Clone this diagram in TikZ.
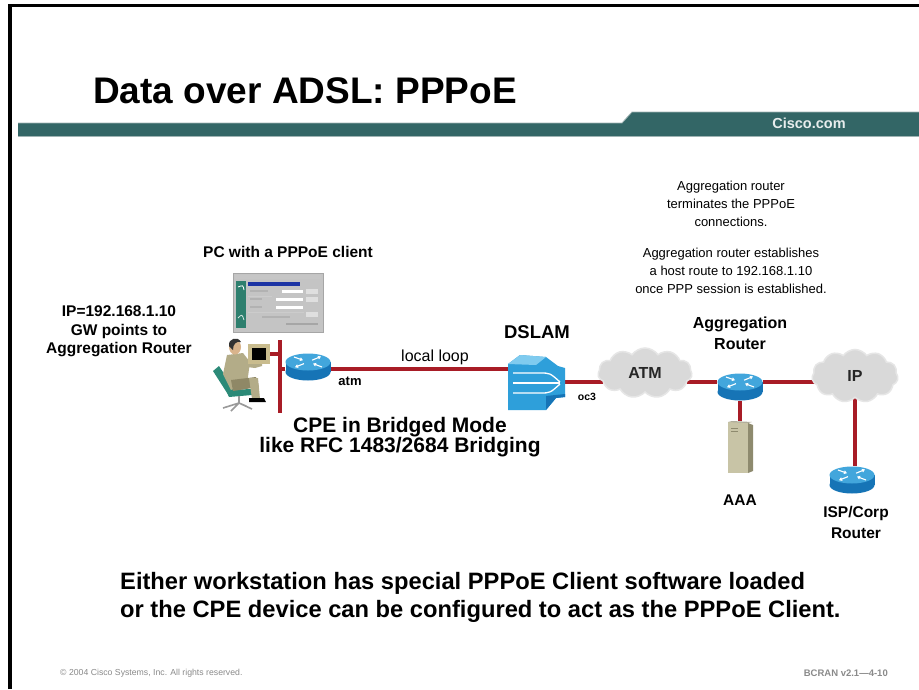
\documentclass[tikz,border=0pt]{standalone}
\usepackage{fontspec}
\setmainfont{Liberation Sans}
\usetikzlibrary{shapes.symbols,arrows.meta,calc}

\definecolor{barteal}{HTML}{336666}
\definecolor{baredge}{HTML}{9FB3B3}
\definecolor{linkred}{HTML}{A81C26}
\definecolor{routertop}{HTML}{42A6DC}
\definecolor{routerside}{HTML}{1674B6}
\definecolor{dslamblue}{HTML}{2E9FDA}
\definecolor{dslamlight}{HTML}{7FCBEF}
\definecolor{cloudgray}{HTML}{D9D9D9}
\definecolor{cloudedge}{HTML}{E6E6E6}
\definecolor{servertan}{HTML}{C8C4A6}
\definecolor{serverdark}{HTML}{8E8A6E}
\definecolor{khaki}{HTML}{B3AC88}
\definecolor{khakidark}{HTML}{8F8866}
\definecolor{chairteal}{HTML}{2C8A78}
\definecolor{chairgray}{HTML}{9A9A9A}
\definecolor{skin}{HTML}{D9B48C}
\definecolor{monitortan}{HTML}{C9BC8E}
\definecolor{wingray}{HTML}{C4C4C4}
\definecolor{winblue}{HTML}{1C34A4}
\definecolor{winteal}{HTML}{2E7F6E}
\definecolor{footgray}{HTML}{8A8A8A}

\pgfdeclarelayer{bg}
\pgfsetlayers{bg,main}

\tikzset{
  link/.style={draw=linkred, line width=3.2pt},
  boldlabel/.style={font=\bfseries, inner sep=0pt, align=center},
  plainlabel/.style={inner sep=0pt, align=center},
  netcloud/.style={cloud, cloud puffs=11, cloud puff arc=110, aspect=1.8,
    fill=cloudgray, draw=cloudedge, line width=1.5pt, inner sep=0pt},
  router/.pic={
    \fill[routerside] (-22.5,-4) rectangle (22.5,6);
    \fill[routerside] (0,6) ellipse [x radius=22.5pt, y radius=8.5pt];
    \fill[routertop] (0,-4) ellipse [x radius=22.5pt, y radius=8.5pt];
    \begin{scope}[white, line width=1.1pt, -{Triangle[length=3pt,width=3.6pt]}]
      \draw (-14,-9) -- (-5,-5.8);
      \draw (14,1) -- (5,-2.4);
      \draw (4,-5.8) -- (13,-9.5);
      \draw (-4,-2.4) -- (-13,1.2);
    \end{scope}
    \node[inner sep=0pt, minimum width=45pt, minimum height=27pt] (-box) at (0,1) {};
  },
  dslam/.pic={
    \fill[dslamblue] (-28,-18) -- (-16,-27) -- (10,-25) -- (22,-16) -- (29,-14)
      -- (29,15) -- (20,16) -- (10,28) -- (-28,28) -- cycle;
    \fill[dslamlight] (-28,-18) -- (-16,-27) -- (10,-25) -- (0,-17) -- cycle;
    \fill[routerside] (10,28) -- (20,16) -- (29,15) -- (29,12) -- (10,14) -- cycle;
    \begin{scope}[white, line width=1.3pt]
      \draw (-23,-9) -- (4,-9) .. controls (14,-9) .. (24,0);
      \draw (-23,1) -- (24,1);
      \draw (-23,11) -- (4,11) .. controls (14,11) .. (24,2);
    \end{scope}
    \node[inner sep=0pt, minimum width=57pt, minimum height=55pt] (-box) at (0.5,0.5) {};
  },
  server/.pic={
    \fill[serverdark] (8,-24) -- (13,-22) -- (13,24) -- (8,26) -- cycle;
    \fill[servertan] (-12,-25) rectangle (8,26);
    \fill[serverdark!70] (-12,-25) -- (-8,-26) -- (12,-25) -- (8,-24) -- cycle;
    \draw[serverdark, line width=0.8pt] (-9,-19) -- (-2,-19) (-9,-16) -- (-2,-16);
    \node[inner sep=0pt, minimum width=25pt, minimum height=51pt] (-box) at (0.5,0) {};
  }
}

\begin{document}
\begin{tikzpicture}[x=1pt, y=-1pt]
\useasboundingbox (0,0) rectangle (919,689);
\begin{pgfonlayer}{bg}
  \fill[white] (0,0) rectangle (919,689);
\end{pgfonlayer}

% slide frame
\draw[line width=3.5pt] (10,689) -- (10,5.5) -- (919,5.5);

% header band
\fill[barteal] (18,123) -- (622,123) -- (632,112) -- (919,112) -- (919,136) -- (18,136) -- cycle;
\draw[baredge, line width=0.8pt] (18,123) -- (622,123) -- (632,112) -- (919,112);
\draw[baredge, line width=0.6pt] (18,136.3) -- (919,136.3);
\node[anchor=base west, inner sep=0pt, font=\fontsize{37}{44}\selectfont\bfseries] (title) at (93,103) {Data over ADSL: PPPoE};
\node[boldlabel, text=white!88!barteal, font=\fontsize{14.5}{17}\selectfont\bfseries] (cisco) at (809,123.5) {Cisco.com};

% notes
\node[plainlabel, font=\fontsize{13}{18}\selectfont] (noteA) at (731,203.5)
  {Aggregation router\\terminates the PPPoE\\connections.};
\node[plainlabel, font=\fontsize{13}{18}\selectfont] (noteB) at (731,270.5)
  {Aggregation router establishes\\a host route to 192.168.1.10\\once PPP session is established.};
\node[boldlabel, font=\fontsize{15.5}{18.5}\selectfont\bfseries] (ipnote) at (119,331.5)
  {IP=192.168.1.10\\GW points to\\Aggregation Router};
\node[boldlabel, font=\fontsize{15.5}{18}\selectfont\bfseries] (pclabel) at (288,252) {PC with a PPPoE client};

% client application window
\begin{scope}
  \fill[wingray] (233,273) rectangle (323,332);
  \draw[gray!70, line width=0.6pt] (233,273) rectangle (323,332);
  \fill[gray!45] (235,275) rectangle (321,279);
  \fill[winteal] (236,281) rectangle (246,328);
  \draw[white, line width=0.8pt] (238,287) .. controls (243,285) .. (244,290);
  \draw[white!80!winteal, line width=0.8pt] (238,318) .. controls (242,314) .. (244,320);
  \fill[winblue] (248,282) rectangle (300,286);
  \fill[white] (282,290) rectangle (303,293);
  \fill[white] (276,298) rectangle (303,301);
  \fill[white] (276,306) rectangle (303,309);
  \fill[gray!60] (250,290) rectangle (268,292);
  \fill[gray!60] (250,298) rectangle (262,300);
  \fill[gray!60] (250,306) rectangle (262,308);
  \fill[gray!25] (306,289) rectangle (318,294);
  \fill[gray!25] (306,297) rectangle (318,302);
  \fill[gray!25] (306,312) rectangle (318,317);
  \fill[gray!60] (262,316) rectangle (290,318);
  \fill[gray!70] (286,323) rectangle (318,325);
  \draw[gray!40, line width=0.5pt] (248,296) -- (272,296) (248,312) -- (304,312);
\end{scope}

% user at the workstation
\begin{scope}
  \fill[chairteal] (213,371) -- (219,366) -- (235,390) -- (229,396) -- cycle;
  \fill[chairteal] (226,390) -- (252,389) -- (252,395) -- (229,397) -- cycle;
  \draw[chairgray, line width=1.6pt] (239,396) -- (239,403)
    (223,408) -- (239,403) -- (252,409) (239,403) -- (231,411) (239,403) -- (246,406);
  \fill[khaki] (227,355) -- (243,353) -- (250,362) -- (247,384) -- (231,390) -- (223,374) -- cycle;
  \fill[khakidark] (231,380) -- (256,377) -- (259,387) -- (233,391) -- cycle;
  \fill[khaki] (249,378) -- (258,378) -- (260,399) -- (252,399) -- cycle;
  \fill[khaki] (239,357) -- (256,362) -- (262,360) -- (262,366) -- (255,368) -- (239,366) -- cycle;
  \fill[black] (249,398) -- (264,398) -- (266,402) -- (249,402) -- cycle;
  \fill[skin] (235,347) ellipse [x radius=6pt, y radius=7.5pt];
  \fill[black!80] (229,346) .. controls (228,338) and (238,336) .. (241,342)
    .. controls (236,341) and (233,344) .. (233,350) -- cycle;
\end{scope}

% workstation display
\node[fill=monitortan, minimum width=22pt, minimum height=20pt, inner sep=0pt] (monitor) at (259,354) {};
\fill[black] (252,348) rectangle (266,360);

% devices
\pic (cpe) at (308,366) {router};
\pic (dsl) at (536,382) {dslam};
\node[netcloud, minimum width=94pt, minimum height=50pt] (atm) at (645,373) {};
\pic (agg) at (740,386) {router};
\node[netcloud, minimum width=86pt, minimum height=53pt, aspect=1.5] (ipc) at (855,376) {};
\pic (isp) at (852,479) {router};
\pic (aaa) at (740,447) {server};

% connection lines
\coordinate (lanT) at (280,340);
\coordinate (lanB) at (280,413);
\coordinate (loopY) at (0,369);
\coordinate (coreY) at (0,382);
\begin{pgfonlayer}{bg}
  \draw[link] (lanT) -- (lanB);
  \draw[link] (monitor.east) -- (monitor.east -| lanT);
  \draw[link] (cpe-box.west |- loopY) -- (lanT |- loopY);
  \draw[link] (cpe-box.east |- loopY) -- (dsl-box.west |- loopY);
  \draw[link] (dsl-box.east |- coreY) -- (atm.center |- coreY);
  \draw[link] (atm.center |- coreY) -- (agg-box.west |- coreY);
  \draw[link] (agg-box.east |- coreY) -- (ipc.center |- coreY);
  \draw[link] (ipc.center) -- (isp-box.north -| ipc.center);
  \draw[link] (agg-box.south) -- (aaa-box.north -| agg-box.south);
\end{pgfonlayer}

% device labels
\node[boldlabel, text=black!85, font=\fontsize{16}{19}\selectfont\bfseries] (atmlabel) at (atm) {ATM};
\node[boldlabel, text=black!85, font=\fontsize{16}{19}\selectfont\bfseries] (iplabel) at (ipc) {IP};
\node[boldlabel, font=\fontsize{18.5}{22}\selectfont\bfseries] (dslamlabel) at (537,332) {DSLAM};
\node[boldlabel, font=\fontsize{16}{21}\selectfont\bfseries] (agglabel) at (740,333.5) {Aggregation\\Router};
\node[boldlabel, font=\fontsize{15.5}{19}\selectfont\bfseries] (aaalabel) at (740,500) {AAA};
\node[boldlabel, font=\fontsize{15.5}{21}\selectfont\bfseries] (isplabel) at (856,522.5) {ISP/Corp\\Router};
\node[plainlabel, font=\fontsize{16}{19}\selectfont] (looplabel) at (435,357) {local loop};
\node[boldlabel, font=\fontsize{13}{16}\selectfont\bfseries] (atmlink) at (350,381) {atm};
\node[boldlabel, font=\fontsize{10.5}{13}\selectfont\bfseries] (oc3) at (587,397) {oc3};
\node[boldlabel, font=\fontsize{21}{20}\selectfont\bfseries] (cpemode) at (400,437)
  {CPE in Bridged Mode\\like RFC 1483/2684 Bridging};

% summary
\node[anchor=west, align=left, inner sep=0pt, font=\fontsize{23.7}{28}\selectfont\bfseries] (summary) at (120,597)
  {Either workstation has special PPPoE Client software loaded\\or the CPE device can be configured to act as the PPPoE Client.};

% footer
\node[anchor=west, inner sep=0pt, text=footgray, font=\fontsize{8.7}{10}\selectfont] (copyright) at (60,673)
  {\textcopyright{} 2004 Cisco Systems, Inc. All rights reserved.};
\node[anchor=east, inner sep=0pt, text=footgray, font=\fontsize{9.5}{11}\selectfont\bfseries] (course) at (888,673)
  {BCRAN v2.1---4-10};
\end{tikzpicture}
\end{document}
